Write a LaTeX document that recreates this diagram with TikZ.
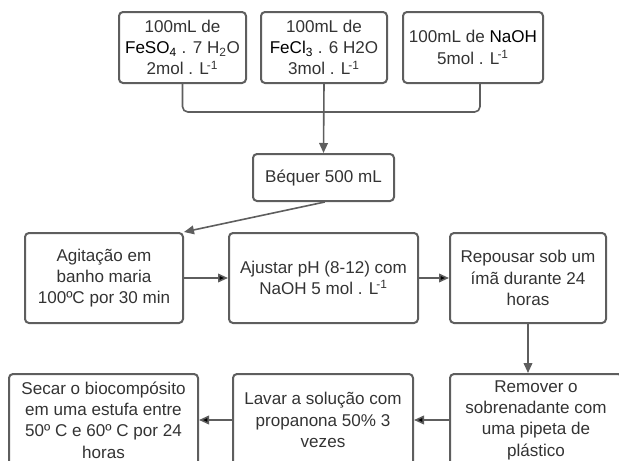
\documentclass[tikz,border=0pt]{standalone}
\usepackage{fontspec}
\setmainfont{Liberation Sans}
\usetikzlibrary{arrows.meta,shapes,calc}
\definecolor{linegray}{HTML}{5E5E5E}
\definecolor{textgray}{HTML}{333333}

\begin{document}
\begin{tikzpicture}[x=0.75pt,y=-0.75pt,->,>={Triangle[length=7.5pt,width=6.5pt]},
  link/.style={draw=linegray,line width=1.2pt},
  main node/.style={draw=linegray,line width=1.5pt,rounded corners=3pt,align=center,
    text=textgray,inner sep=0pt,font=\fontsize{12.8}{16}\selectfont},
  box/.style 2 args={main node,minimum width=#1*0.75pt,minimum height=#2*0.75pt}]

  \useasboundingbox (0,0) rectangle (619,461);
  \clip (0,0) rectangle (619,461);

  \node[box={127}{71}] (1) at (182.5,47.5) {100mL de\\\textcolor{black}{FeSO\textsubscript{4}} . 7 H\textsubscript{2}O\\2mol . L\kern-1.5pt\textsuperscript{-1}};
  \node[box={126}{71}] (2) at (324,47.5) {100mL de\\\textcolor{black}{FeCl\textsubscript{3}} . 6 H2O\\3mol . L\kern-1.5pt\textsuperscript{-1}};
  \node[box={140}{71}] (3) at (473,47.5) {100mL de \textcolor{black}{NaOH}\\5mol . L\kern-1.5pt\textsuperscript{-1}};
  \node[box={141}{47}] (4) at (323.5,177.5) {Béquer 500 mL};
  \node[box={158}{90}] (5) at (104,278) {Agitação em\\banho maria\\100ºC por 30 min};
  \node[box={189}{90}] (6) at (323.5,278) {Ajustar pH (8-12) com\\NaOH 5 mol . L\kern-1.5pt\textsuperscript{-1}};
  \node[box={156}{90}] (7) at (528,278) {Repousar sob um\\ímã durante 24\\horas};
  \node[box={172}{92}] (8) at (536,420) {Remover o\\sobrenadante com\\uma pipeta de\\plástico};
  \node[box={180}{92}] (9) at (323,420) {Lavar a solução com\\propanona 50\% 3\\vezes};
  \node[box={189}{92}] (10) at (103.5,420) {Secar o biocompósito\\em uma estufa entre\\50º C e 60º C por 24\\horas};

  \coordinate (j) at (323,112);
  \draw[link,-,rounded corners=4pt] (1.south) |- (j) -| ([xshift=5.25pt]3.south);
  \draw[link] (2.south) -- (4.north);
  \draw[link] ([xshift=1pt]4.south) -- (5.north east);

  \path[link]
    (5) edge (6)
    (6) edge (7)
    (8) edge (9)
    (9) edge (10);
  \draw[link] (7.south) -- (7.south |- 8.north);
\end{tikzpicture}
\end{document}
